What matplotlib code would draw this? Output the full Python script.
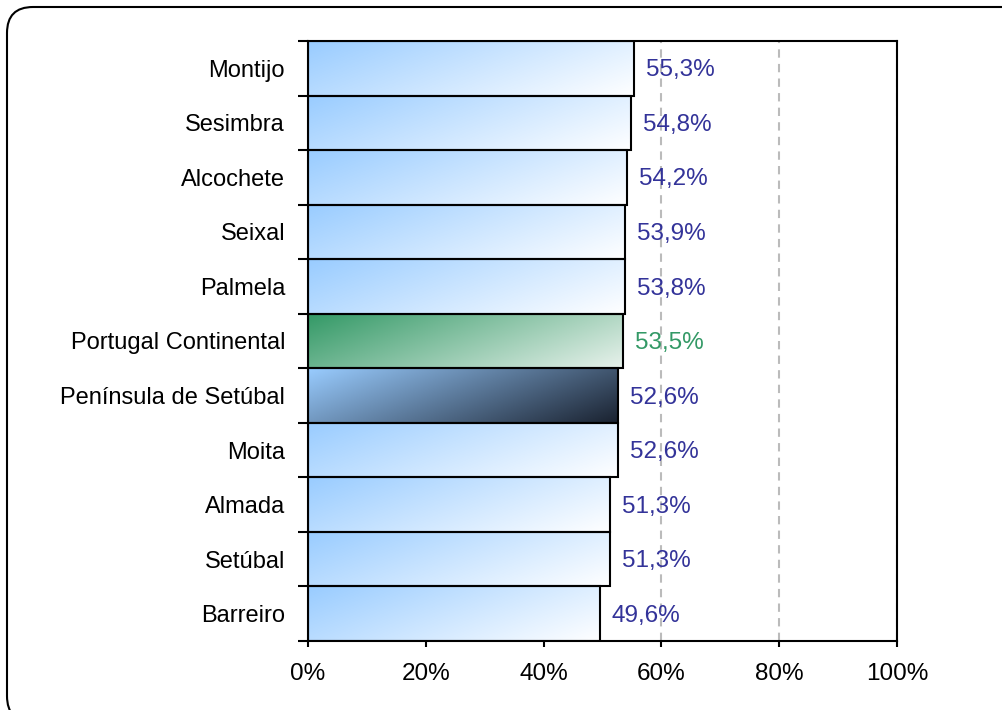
import numpy as np
import matplotlib
matplotlib.use("Agg")
import matplotlib.pyplot as plt
from matplotlib.patches import FancyBboxPatch
from matplotlib.colors import LinearSegmentedColormap
from matplotlib.transforms import IdentityTransform

categories = ["Montijo", "Sesimbra", "Alcochete", "Seixal", "Palmela",
              "Portugal Continental", "Península de Setúbal", "Moita",
              "Almada", "Setúbal", "Barreiro"]
values = [55.3, 54.8, 54.2, 53.9, 53.8, 53.5, 52.6, 52.6, 51.3, 51.3, 49.6]
value_labels = ["55,3%", "54,8%", "54,2%", "53,9%", "53,8%", "53,5%",
                "52,6%", "52,6%", "51,3%", "51,3%", "49,6%"]
xticks = [0, 20, 40, 60, 80, 100]
xtick_labels = ["0%", "20%", "40%", "60%", "80%", "100%"]

plt.rcParams['font.family'] = ['Liberation Sans', 'DejaVu Sans']

W, H = 1003, 710
fig = plt.figure(figsize=(W / 100, H / 100), dpi=100)
ax = fig.add_axes([308 / W, 1 - 641 / H, 589 / W, 600 / H])

n = len(categories)
ypos = np.arange(n)
ax.set_xlim(0, 100)
ax.set_ylim(n - 0.5, -0.5)

bars = ax.barh(ypos, values, height=1.0, facecolor='none',
               edgecolor='black', linewidth=1.5, zorder=3)

cm_blue = LinearSegmentedColormap.from_list("b", ["#99CCFF", "#FFFFFF"])
cm_green = LinearSegmentedColormap.from_list("g", ["#339966", "#E8F2EC"])
cm_dark = LinearSegmentedColormap.from_list("d", ["#99CCFF", "#1A2230"])

px_per_unit = 589 / 100
band_px = 600 / n
for i, (bar, v, cat) in enumerate(zip(bars, values, categories)):
    wpx = v * px_per_unit
    nx, ny = 300, 60
    X = np.linspace(0, 1, nx)[None, :] * wpx
    Y = np.linspace(0, 1, ny)[:, None] * band_px
    k = 2.5
    t = (X + k * Y) / (wpx + k * band_px)
    if cat == "Portugal Continental":
        cm, lc = cm_green, "#339966"
    elif cat == "Península de Setúbal":
        cm, lc = cm_dark, "#333399"
    else:
        cm, lc = cm_blue, "#333399"
    im = ax.imshow(t, cmap=cm, vmin=0, vmax=1, aspect='auto',
                   extent=(0, v, i + 0.5, i - 0.5), origin='upper',
                   interpolation='bilinear', zorder=2)
    im.set_clip_path(bar)
    ax.annotate(value_labels[i], (v, i), xytext=(8.5, -1.5),
                textcoords='offset points', va='center', ha='left',
                fontsize=17.5, color=lc, zorder=4)

ax.set_xlim(0, 100)
ax.set_ylim(n - 0.5, -0.5)

ax.set_xticks(xticks)
ax.set_xticklabels(xtick_labels, fontsize=17.5)
ax.xaxis.grid(True, linestyle=(0, (4, 3)), color='#BBBBBB', linewidth=1.5, zorder=1)
ax.set_axisbelow(True)

ax.set_yticks(ypos)
ax.set_yticklabels(categories, fontsize=17)
ax.set_yticks(np.arange(n + 1) - 0.5, minor=True)
ax.tick_params(axis='y', which='major', length=0, pad=16.5)
ax.tick_params(axis='y', which='minor', length=7.2, width=1.5, direction='out')
ax.tick_params(axis='x', which='major', length=4.5, width=1.5, direction='out', pad=11)

for s in ax.spines.values():
    s.set_linewidth(1.5)
    s.set_color('black')

box = FancyBboxPatch((7, H - 722), 1028 - 7, 722 - 7,
                     boxstyle="round,pad=0,rounding_size=26",
                     transform=IdentityTransform(), facecolor='none',
                     edgecolor='black', linewidth=1.5, clip_on=False)
fig.patches.append(box)

fig.savefig("out.png", dpi=100)
